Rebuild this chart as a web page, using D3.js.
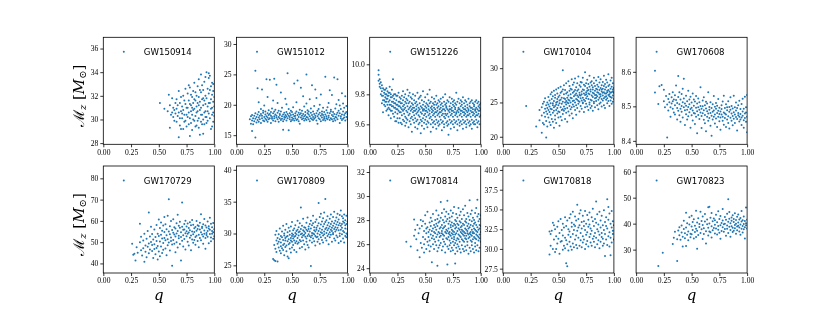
<!DOCTYPE html>
<html>
<head>
<meta charset="utf-8">
<script src="https://cdnjs.cloudflare.com/ajax/libs/d3/7.8.5/d3.min.js"></script>
<style>
  body { margin: 0; background: #fff; }
  .tick text, .label { filter: grayscale(1); }
</style>
</head>
<body>
<div id="chart"></div>
<script>
// event names, one panel each
const events = ["GW150914", "GW151012", "GW151226", "GW170104", "GW170608",
                "GW170729", "GW170809", "GW170814", "GW170818", "GW170823"];

// posterior samples: [q, [chirp masses at that q]]
const gw150914 = [[.51,[31.4]],[.55,[30.9]],[.58,[30.7]],[.59,[32.1]],[.60,[29.3,31.2]],[.61,[30.4]],[.62,[30.6,31.8]],[.63,[30.2,31.0]],[.64,[30.8,29.9]],[.65,[30.5,31.4]],[.66,[29.8,30.9,31.7]],[.67,[30.3,31.2]],[.68,[28.5,30.6,32.4]],[.69,[29.5,30.1,31.4]],[.70,[30.7,31.9,29.2]],[.71,[30.1,31.1,30.5]],[.72,[29.2,30.8,32.0]],[.73,[30.4,31.6,29.8]],[.74,[29.9,31.3,32.6]],[.75,[30.4,31.0,29.4]],[.76,[31.0,32.2,30.2]],[.77,[29.6,30.6,31.6,32.9]],[.78,[28.6,30.1,31.3,32.7]],[.79,[29.7,30.7,31.2,32.1]],[.80,[29.1,30.4,31.9,31.0]],[.81,[30.0,31.4,32.4,30.8]],[.82,[29.9,30.9,31.7,33.1]],[.83,[29.4,30.3,31.6,32.3]],[.84,[29.5,31.1,32.0,30.6]],[.85,[30.7,31.4,32.8,29.9]],[.86,[29.3,30.1,31.9,33.4,31.2]],[.87,[28.7,30.8,31.5,32.5]],[.88,[29.8,31.0,32.3,33.8,30.4]],[.89,[30.4,31.7,32.9,29.6]],[.90,[28.8,30.0,31.2,32.5,31.8]],[.91,[29.6,31.6,33.2,30.6]],[.92,[30.2,30.7,32.0,33.6,31.3]],[.93,[30.2,31.8,34.0,29.7]],[.94,[29.9,31.1,32.6,30.7]],[.95,[30.5,32.2,33.5,31.4,33.9]],[.96,[30.1,31.4,33.7,32.5]],[.97,[29.2,30.9,31.7,32.8]],[.98,[29.4,31.0,32.1,30.4,33.1]],[.99,[30.6,31.5,32.4,33.0,29.8]],[1.0,[30.3,31.9,31.1]]];

const gw151012 = [[.12,[17.6]],[.13,[18.1,16.9]],[.14,[15.7,17.4,18.3]],[.15,[17.8,16.8]],[.16,[18.2,17.3]],[.17,[25.6,14.6,17.7,18.6]],[.18,[17.1,18.0]],[.19,[22.7,17.5,18.4]],[.20,[20.4,17.9,18.8,17.2]],[.21,[18.2,17.6]],[.22,[17.0,18.5,19.3]],[.23,[22.5,17.8,18.2]],[.24,[17.4,18.7,19.0]],[.25,[19.9,18.0,17.3]],[.26,[18.4,17.7,18.9]],[.27,[24.2,17.5,18.1]],[.28,[21.3,18.6,17.2,17.9]],[.29,[18.3,17.6,19.1]],[.30,[24.1,17.8,18.5]],[.31,[17.0,18.2,18.8]],[.32,[17.7,18.0,19.4]],[.33,[20.7,17.4,18.6]],[.34,[24.3,18.1,17.8,18.9]],[.35,[17.3,18.4,19.2]],[.36,[23.3,17.9,18.2]],[.37,[20.3,17.6,18.7]],[.38,[18.0,17.2,19.0]],[.39,[18.5,17.8,18.3]],[.40,[22.0,17.5,18.9]],[.41,[18.1,17.7,19.5]],[.42,[15.9,18.4,17.3]],[.43,[18.0,18.7,17.6]],[.44,[21.0,17.9,18.3]],[.45,[20.1,17.4,18.8,18.1]],[.46,[25.2,17.8,18.5]],[.47,[15.8,18.2,19.3]],[.48,[17.6,18.6,18.0]],[.49,[18.3,17.3,19.0]],[.50,[17.9,18.8,17.5]],[.51,[18.4,17.7,19.6]],[.52,[23.5,18.1,17.4]],[.53,[18.6,17.8,18.2]],[.54,[20.4,17.5,18.9]],[.55,[24.0,18.3,17.6]],[.56,[18.0,18.7,17.3]],[.57,[16.9,18.4,19.2]],[.58,[22.8,17.9,18.6]],[.59,[17.6,18.2,19.0]],[.60,[21.4,18.5,17.8]],[.61,[17.4,18.1,19.7]],[.62,[18.8,17.7,18.3]],[.63,[25.0,20.2,18.0,17.5]],[.64,[18.6,17.9,19.1]],[.65,[17.6,18.4,18.9]],[.66,[20.9,18.1,17.3]],[.67,[18.7,17.8,19.4]],[.68,[23.2,18.3,17.6]],[.69,[18.9,18.0,17.5]],[.70,[17.7,18.5,19.8]],[.71,[22.5,18.2,17.9]],[.72,[21.1,18.6,17.4]],[.73,[16.9,18.1,19.0]],[.74,[18.4,17.8,19.3]],[.75,[20.0,17.6,18.7]],[.76,[21.7,18.2,17.3]],[.77,[18.9,17.9,18.5]],[.78,[17.5,18.3,19.5]],[.79,[18.8,18.0,17.7]],[.80,[24.6,18.4,17.4]],[.81,[18.1,19.1,17.8]],[.82,[18.7,17.6,19.6]],[.83,[20.3,18.2,17.9]],[.84,[22.4,18.6,17.5]],[.85,[17.8,18.9,19.2]],[.86,[21.6,18.3,17.6]],[.87,[17.3,18.8,18.1]],[.88,[24.5,18.5,17.7]],[.89,[19.4,18.0,17.4]],[.90,[20.1,18.4,17.9]],[.91,[24.2,18.7,17.6]],[.92,[20.8,18.2,19.0]],[.93,[17.0,18.6,19.9]],[.94,[18.1,17.8,19.3]],[.95,[21.9,18.4,17.5]],[.96,[20.2,18.9,17.7]],[.97,[18.3,17.9,19.5]],[.98,[21.4,17.4,18.6]],[.99,[18.0,18.8,19.8]],[1.0,[18.5,17.6]]];

const gw151226 = [[.08,[9.96,9.93,9.89]],[.09,[9.90,9.87,9.85]],[.10,[9.88,9.84,9.80]],[.11,[9.86,9.82,9.79,9.74]],[.12,[9.84,9.79,9.68,9.76]],[.13,[9.81,9.76,9.83,9.73]],[.14,[9.83,9.78,9.72,9.80,9.75]],[.15,[9.80,9.75,9.69,9.77,9.84]],[.16,[9.82,9.77,9.73,9.70,9.79]],[.17,[9.79,9.71,9.66,9.75,9.81]],[.18,[9.81,9.76,9.70,9.73,9.85]],[.19,[9.78,9.73,9.64,9.80,9.69]],[.20,[9.83,9.75,9.69,9.72,9.78]],[.21,[9.90,9.79,9.72,9.67,9.75]],[.22,[9.77,9.71,9.65,9.74,9.80]],[.23,[9.80,9.74,9.68,9.62,9.71]],[.24,[9.76,9.70,9.62,9.73,9.79]],[.25,[9.79,9.73,9.67,9.64,9.70]],[.26,[9.81,9.75,9.69,9.72,9.61]],[.27,[9.72,9.64,9.78,9.68,9.75]],[.28,[9.74,9.68,9.61,9.77,9.71]],[.29,[9.79,9.74,9.70,9.66,9.60]],[.30,[9.76,9.72,9.69,9.63,9.82]],[.31,[9.78,9.73,9.67,9.62,9.70]],[.32,[9.80,9.75,9.71,9.65,9.59]],[.33,[9.77,9.69,9.64,9.74,9.61]],[.34,[9.83,9.72,9.68,9.63,9.76]],[.35,[9.79,9.74,9.70,9.66,9.58]],[.36,[9.75,9.71,9.67,9.62,9.81]],[.37,[9.78,9.72,9.69,9.64,9.60]],[.38,[9.74,9.70,9.65,9.77,9.55]],[.39,[9.80,9.73,9.68,9.63,9.71]],[.40,[9.76,9.71,9.66,9.61,9.69]],[.41,[9.79,9.74,9.69,9.64,9.58]],[.42,[9.75,9.70,9.67,9.62,9.72]],[.43,[9.81,9.73,9.68,9.63,9.57]],[.44,[9.77,9.71,9.66,9.60,9.69]],[.45,[9.74,9.70,9.65,9.61,9.78]],[.46,[9.79,9.72,9.68,9.63,9.54]],[.47,[9.76,9.71,9.67,9.62,9.59]],[.48,[9.82,9.73,9.69,9.64,9.70]],[.49,[9.75,9.70,9.66,9.61,9.57]],[.50,[9.78,9.72,9.67,9.63,9.69]],[.51,[9.74,9.69,9.65,9.60,9.71]],[.52,[9.80,9.73,9.68,9.62,9.58]],[.53,[9.76,9.70,9.66,9.61,9.72]],[.54,[9.83,9.74,9.69,9.64,9.67]],[.55,[9.75,9.71,9.65,9.60,9.55]],[.56,[9.78,9.72,9.68,9.63,9.70]],[.57,[9.74,9.69,9.66,9.61,9.58]],[.58,[9.77,9.71,9.67,9.62,9.73]],[.59,[9.75,9.70,9.65,9.60,9.68]],[.60,[9.79,9.73,9.68,9.63,9.57]],[.61,[9.74,9.69,9.66,9.61,9.71]],[.62,[9.76,9.72,9.67,9.62,9.59]],[.63,[9.75,9.70,9.65,9.60,9.68]],[.64,[9.77,9.71,9.68,9.63,9.73]],[.65,[9.74,9.69,9.66,9.61,9.56]],[.66,[9.78,9.72,9.67,9.62,9.70]],[.67,[9.75,9.70,9.65,9.60,9.58]],[.68,[9.80,9.73,9.69,9.64,9.67]],[.69,[9.74,9.71,9.66,9.61,9.72]],[.70,[9.76,9.70,9.67,9.62,9.59]],[.71,[9.75,9.69,9.65,9.60,9.53]],[.72,[9.78,9.72,9.68,9.63,9.70]],[.73,[9.74,9.70,9.66,9.61,9.57]],[.74,[9.77,9.71,9.67,9.62,9.69]],[.75,[9.75,9.69,9.65,9.60,9.73]],[.76,[9.76,9.72,9.68,9.63,9.58]],[.77,[9.74,9.70,9.66,9.61,9.71]],[.78,[9.81,9.73,9.67,9.62,9.68]],[.79,[9.75,9.69,9.65,9.60,9.56]],[.80,[9.77,9.71,9.68,9.63,9.70]],[.81,[9.74,9.70,9.66,9.61,9.59]],[.82,[9.76,9.72,9.67,9.62,9.69]],[.83,[9.75,9.69,9.65,9.60,9.73]],[.84,[9.78,9.71,9.68,9.63,9.57]],[.85,[9.74,9.70,9.66,9.61,9.68]],[.86,[9.76,9.72,9.67,9.62,9.70]],[.87,[9.75,9.69,9.65,9.60,9.58]],[.88,[9.73,9.71,9.68,9.63,9.66]],[.89,[9.77,9.70,9.66,9.61,9.69]],[.90,[9.74,9.72,9.67,9.62,9.59]],[.91,[9.75,9.69,9.65,9.60,9.71]],[.92,[9.76,9.71,9.68,9.63,9.57]],[.93,[9.74,9.70,9.66,9.61,9.68]],[.94,[9.73,9.72,9.67,9.62,9.60]],[.95,[9.75,9.69,9.65,9.60,9.70]],[.96,[9.76,9.71,9.68,9.63,9.66]],[.97,[9.74,9.70,9.66,9.61,9.58]],[.98,[9.75,9.72,9.67,9.62,9.69]],[.99,[9.73,9.69,9.65,9.60,9.71]],[1.0,[9.74,9.70,9.66]]];

const gw170104 = [[.21,[24.5]],[.30,[21.5]],[.33,[23.9,22.4]],[.35,[20.6,24.3,23.1]],[.36,[24.8,22.0]],[.37,[23.5,25.1,21.8]],[.38,[24.1,22.9,25.6]],[.39,[19.9,23.7,24.6,22.3]],[.40,[25.0,23.3,24.2,21.5]],[.41,[24.7,22.8,25.8,23.9]],[.42,[23.6,25.3,24.4,22.1]],[.43,[24.9,26.2,23.2,21.7,24.1]],[.44,[25.5,24.0,22.6,26.5]],[.45,[24.6,23.5,25.9,22.2,24.9]],[.46,[25.2,23.8,26.7,24.3,21.3]],[.47,[24.5,25.7,23.1,26.1,22.5]],[.48,[25.0,23.9,26.9,24.7,22.0]],[.49,[24.2,25.5,23.4,26.3,25.1]],[.50,[25.8,24.6,22.8,27.1,23.7]],[.51,[24.9,26.0,23.6,25.3,21.6]],[.52,[25.4,24.3,27.3,22.9,26.4]],[.53,[24.8,26.6,23.9,25.7,22.4]],[.54,[29.7,25.1,24.0,26.9,23.3]],[.55,[25.6,24.4,27.5,23.8,26.2]],[.56,[25.0,26.8,24.1,22.6,25.5]],[.57,[26.3,24.7,27.8,23.5,25.2]],[.58,[25.7,24.2,26.5,22.2,25.0]],[.59,[26.0,24.9,28.1,23.7,25.4]],[.60,[25.3,26.7,24.5,23.1,27.4]],[.61,[26.2,25.0,27.0,24.0,25.7]],[.62,[25.6,26.9,24.3,28.4,23.4]],[.63,[26.4,25.2,27.6,24.7,22.7]],[.64,[25.9,26.6,24.4,27.9,25.3]],[.65,[26.1,25.0,28.5,23.9,26.8]],[.66,[25.5,27.2,24.6,26.3,23.2]],[.67,[26.7,25.4,27.8,24.2,26.0]],[.68,[25.8,26.9,24.8,28.8,25.2]],[.69,[26.4,25.1,27.5,23.7,26.1]],[.70,[26.0,27.3,24.5,25.6,28.0]],[.71,[26.6,25.3,27.9,24.1,26.2]],[.72,[25.7,26.9,24.9,28.6,25.0]],[.73,[26.3,27.6,25.4,23.6,26.8]],[.74,[29.4,26.1,25.2,27.4,24.3]],[.75,[26.5,25.6,27.8,24.8,26.2]],[.76,[25.9,27.1,24.4,26.7,28.3]],[.77,[26.8,25.5,27.7,23.9,26.3]],[.78,[26.2,27.3,25.0,28.9,24.7]],[.79,[26.6,25.4,27.9,24.2,26.9]],[.80,[26.0,27.5,25.3,28.1,24.5]],[.81,[26.9,25.8,27.2,23.8,26.4]],[.82,[26.3,27.8,25.1,28.6,24.9]],[.83,[26.7,25.6,27.4,24.3,26.1]],[.84,[26.1,27.0,25.2,28.2,25.7]],[.85,[26.9,25.9,27.6,24.6,26.5]],[.86,[26.4,27.3,25.4,28.7,24.0]],[.87,[26.8,25.7,27.9,24.8,26.2]],[.88,[26.2,27.1,25.0,28.4,25.9]],[.89,[26.6,25.5,27.5,24.4,26.9]],[.90,[27.0,26.0,28.0,25.3,26.4]],[.91,[26.5,27.4,25.6,28.9,24.6]],[.92,[26.9,25.8,27.7,24.2,26.3]],[.93,[26.3,27.2,25.4,28.3,25.9]],[.94,[26.7,25.6,27.9,24.9,26.5]],[.95,[26.1,27.4,25.2,29.1,26.8]],[.96,[26.6,25.9,27.6,24.5,26.2]],[.97,[27.0,26.4,28.2,25.3,25.8]],[.98,[26.5,27.3,25.7,28.6,24.8]],[.99,[26.9,26.0,27.8,25.1,26.6]],[1.0,[26.4,27.1,25.5]]];

const gw170608 = [[.17,[8.603,8.540]],[.20,[8.507]],[.21,[8.558]],[.23,[8.562]],[.25,[8.515,8.548]],[.26,[8.497]],[.27,[8.530]],[.28,[8.410,8.505]],[.29,[8.521,8.488]],[.30,[8.512,8.536]],[.31,[8.497,8.470]],[.32,[8.526,8.508]],[.33,[8.541,8.493,8.515]],[.34,[8.482,8.520]],[.35,[8.503,8.532,8.476]],[.36,[8.518,8.560]],[.37,[8.495,8.510,8.462]],[.38,[8.588,8.527,8.487]],[.39,[8.506,8.541,8.474]],[.40,[8.520,8.493,8.455]],[.41,[8.536,8.501,8.484]],[.42,[8.512,8.468,8.551]],[.43,[8.580,8.497,8.523]],[.44,[8.489,8.508,8.446]],[.45,[8.531,8.477,8.502]],[.46,[8.515,8.490,8.462]],[.47,[8.545,8.498,8.471]],[.48,[8.506,8.483,8.520]],[.49,[8.492,8.528,8.438]],[.50,[8.511,8.474,8.496]],[.51,[8.537,8.488,8.459]],[.52,[8.502,8.520,8.481]],[.53,[8.479,8.514,8.449]],[.54,[8.496,8.530,8.470]],[.55,[8.508,8.486,8.422]],[.56,[8.523,8.475,8.497]],[.57,[8.490,8.512,8.463]],[.58,[8.555,8.482,8.501]],[.59,[8.472,8.493,8.437]],[.60,[8.517,8.480,8.500]],[.61,[8.489,8.461,8.526]],[.62,[8.503,8.475,8.451]],[.63,[8.494,8.513,8.428]],[.64,[8.470,8.486,8.508]],[.65,[8.541,8.479,8.458]],[.66,[8.498,8.466,8.490]],[.67,[8.481,8.512,8.444]],[.68,[8.473,8.495,8.415]],[.69,[8.506,8.462,8.484]],[.70,[8.488,8.530,8.470]],[.71,[8.476,8.499,8.450]],[.72,[8.493,8.465,8.510]],[.73,[8.481,8.440,8.502]],[.74,[8.470,8.521,8.487]],[.75,[8.496,8.457,8.478]],[.76,[8.485,8.468,8.432]],[.77,[8.503,8.476,8.492]],[.78,[8.470,8.514,8.458]],[.79,[8.482,8.531,8.447]],[.80,[8.495,8.466,8.479]],[.81,[8.476,8.506,8.440]],[.82,[8.489,8.462,8.497]],[.83,[8.471,8.515,8.452]],[.84,[8.484,8.498,8.436]],[.85,[8.467,8.490,8.526]],[.86,[8.479,8.458,8.501]],[.87,[8.494,8.472,8.445]],[.88,[8.531,8.483,8.464]],[.89,[8.476,8.497,8.452]],[.90,[8.488,8.469,8.511]],[.91,[8.463,8.495,8.430]],[.92,[8.481,8.474,8.503]],[.93,[8.516,8.470,8.456]],[.94,[8.492,8.478,8.462]],[.95,[8.468,8.507,8.446]],[.96,[8.485,8.522,8.473]],[.97,[8.460,8.493,8.438]],[.98,[8.479,8.528,8.466]],[.99,[8.497,8.455,8.482]],[1.0,[8.470,8.425,8.533]]];

const gw170729 = [[.26,[49.2]],[.27,[44.1]],[.28,[44.5]],[.29,[41.4]],[.30,[47.6]],[.31,[45.0]],[.33,[58.6,49.9]],[.34,[46.2,52.5]],[.35,[43.7]],[.36,[50.8,47.1]],[.37,[40.8,53.9]],[.38,[48.4,45.5]],[.39,[51.6,42.9]],[.40,[55.2,47.8]],[.41,[63.9,49.4,44.8]],[.42,[52.7,46.5]],[.43,[50.1,57.3]],[.44,[45.9,53.8,48.7]],[.45,[51.2,42.6]],[.46,[55.9,49.0,46.8]],[.47,[52.4,44.3]],[.48,[58.1,50.6,47.3]],[.49,[54.0,48.2,41.9]],[.50,[60.7,52.9,45.6]],[.51,[50.3,56.6,43.4]],[.52,[53.5,47.9,59.2]],[.53,[51.7,55.4,44.9]],[.54,[57.8,49.6,46.4]],[.55,[54.8,52.0,61.8]],[.56,[50.9,58.4,47.0]],[.57,[56.1,53.2,43.8]],[.58,[62.4,51.4,48.5]],[.59,[70.2,55.0,49.8]],[.60,[53.7,57.5,46.1]],[.61,[59.9,52.2,50.5]],[.62,[38.9,55.7,48.9]],[.63,[54.4,60.8,51.0]],[.64,[57.0,49.3,53.6]],[.65,[52.6,56.4,45.2]],[.66,[58.9,54.1,50.0]],[.67,[62.9,55.3,47.5]],[.68,[53.0,57.7,51.8]],[.69,[56.8,49.1,59.6]],[.70,[41.4,54.6,52.4]],[.71,[68.6,57.2,50.7]],[.72,[55.8,53.3,48.0]],[.73,[58.5,51.5,56.0]],[.74,[54.2,60.1,46.6]],[.75,[57.4,52.8,55.1]],[.76,[53.9,50.2,58.8]],[.77,[56.7,48.4,54.5]],[.78,[52.1,59.3,55.6]],[.79,[57.9,46.2,53.1]],[.80,[55.0,51.3,60.4]],[.81,[58.2,53.7,49.7]],[.82,[54.8,56.5,51.0]],[.83,[57.1,52.4,48.8]],[.84,[60.0,55.4,53.0]],[.85,[56.2,50.6,58.0]],[.86,[53.5,57.6,47.6]],[.87,[55.9,52.0,59.1]],[.88,[63.1,54.7,50.9]],[.89,[57.3,53.6,56.6]],[.90,[52.7,58.4,49.2]],[.91,[55.5,54.0,60.9]],[.92,[57.8,51.9,46.9]],[.93,[54.3,56.9,53.4]],[.94,[59.7,52.5,55.2]],[.95,[56.4,49.5,57.5]],[.96,[53.8,55.8,61.5]],[.97,[58.6,52.2,50.4]],[.98,[55.3,57.0,53.9]],[.99,[54.6,59.0,51.6]],[1.0,[56.1,52.8]]];

const gw170809 = [[.33,[26.0]],[.34,[25.8,28.2]],[.35,[25.7,29.8,27.6]],[.36,[28.9,27.1,30.4]],[.37,[25.6,28.4,29.3]],[.38,[27.8,29.9,28.7]],[.39,[29.1,27.3,30.8]],[.40,[28.6,29.6,26.9,28.0]],[.41,[29.4,27.7,30.3]],[.42,[28.2,29.0,31.2,27.4]],[.43,[29.7,28.4,26.6,30.0]],[.44,[28.9,30.6,27.9,29.3]],[.45,[29.5,28.1,31.5,27.2]],[.46,[30.2,28.8,29.6,26.4]],[.47,[26.1,29.1,30.9,28.3]],[.48,[29.8,28.5,30.4,27.6]],[.49,[28.9,31.1,29.3,27.0]],[.50,[30.0,28.7,29.6,31.8,27.8]],[.51,[29.2,30.5,28.2,29.8]],[.52,[30.8,28.9,29.5,27.4]],[.53,[29.6,31.3,28.5,30.1]],[.54,[28.8,30.4,29.9,27.1]],[.55,[30.6,29.3,32.0,28.4]],[.56,[29.7,28.6,31.0,30.2]],[.57,[30.3,29.0,27.7,31.6]],[.58,[34.1,29.9,28.8,30.7]],[.59,[29.4,31.2,30.0,27.9]],[.60,[30.5,28.9,29.7,32.3]],[.61,[29.8,31.0,28.3,30.3]],[.62,[30.9,29.5,27.5,30.1]],[.63,[29.2,31.7,30.6,28.7]],[.64,[30.4,29.6,32.5,28.2]],[.65,[31.1,29.9,30.7,27.8]],[.66,[29.6,30.3,31.5,28.9]],[.67,[24.9,30.8,29.4,32.0]],[.68,[30.1,31.3,28.6,29.7]],[.69,[31.6,30.0,29.2,32.8]],[.70,[30.5,28.8,31.0,29.9]],[.71,[29.6,31.8,30.3,28.1]],[.72,[30.9,29.4,32.2,30.6]],[.73,[31.2,30.0,28.7,29.5]],[.74,[34.8,30.4,31.6,29.1]],[.75,[30.8,29.8,32.6,28.4]],[.76,[31.4,30.2,29.4,33.1]],[.77,[30.6,31.9,29.0,30.1]],[.78,[29.7,31.1,32.4,28.6]],[.79,[31.5,30.3,29.9,33.3]],[.80,[35.4,30.7,29.3,31.8]],[.81,[30.1,32.1,28.9,30.9]],[.82,[31.3,29.6,30.5,32.7]],[.83,[30.8,31.7,28.3,29.9]],[.84,[32.3,30.2,31.1,29.4]],[.85,[30.6,33.0,29.8,31.5]],[.86,[31.9,30.4,28.7,30.9]],[.87,[29.9,31.2,32.6,30.1]],[.88,[31.6,30.7,29.2,33.4]],[.89,[30.3,32.0,31.0,28.9]],[.90,[31.4,29.7,30.6,32.5]],[.91,[30.9,31.8,29.4,33.1]],[.92,[32.2,30.5,31.3,28.5]],[.93,[30.0,31.6,32.9,29.6]],[.94,[31.2,30.6,33.6,28.8]],[.95,[32.7,30.9,29.9,31.5]],[.96,[30.4,31.9,29.2,32.4]],[.97,[31.7,30.2,33.0,28.6]],[.98,[30.8,32.1,29.6,31.3]],[.99,[31.5,30.0,32.8,29.4]],[1.0,[30.7,31.9,29.8]]];

const gw170814 = [[.33,[26.2]],[.37,[25.8]],[.40,[28.05,26.7]],[.41,[27.2]],[.42,[26.4]],[.43,[27.6,25.5]],[.44,[26.9]],[.45,[24.9,27.3]],[.46,[26.1,28.0]],[.47,[27.5,25.7]],[.48,[26.6,27.9]],[.49,[25.3,27.1,26.0]],[.50,[27.7,26.4,28.4]],[.51,[26.9,25.6,27.3]],[.52,[27.4,26.2,28.7]],[.53,[25.9,27.0,26.6]],[.54,[27.8,26.3,25.4,27.2]],[.55,[26.8,28.2,27.5,25.8]],[.56,[24.5,26.5,27.9,27.1]],[.57,[27.3,26.0,28.5,26.7]],[.58,[26.4,27.6,25.6,27.0]],[.59,[28.0,26.9,27.4,26.2]],[.60,[27.2,25.9,28.8,26.6,27.7]],[.61,[24.2,26.8,27.5,25.4,28.1]],[.62,[27.0,26.3,28.4,27.8,25.7]],[.63,[26.6,27.9,25.9,27.3,26.9]],[.64,[29.5,27.4,26.1,28.2,26.7]],[.65,[26.9,27.6,25.5,28.6,27.1]],[.66,[27.3,26.4,28.0,25.8,26.8]],[.67,[26.7,27.8,28.9,26.2,27.4]],[.68,[27.5,26.0,28.3,27.0,25.3]],[.69,[26.5,27.2,28.7,26.9,27.9]],[.70,[29.6,24.3,27.1,26.4,28.1,25.8]],[.71,[27.7,26.6,28.5,27.3,25.6,26.9]],[.72,[26.8,27.9,25.9,28.2,27.0,26.3]],[.73,[27.4,26.1,28.8,27.6,25.4,26.7]],[.74,[26.9,28.3,27.2,25.7,27.8,26.5]],[.75,[27.5,26.2,28.6,26.8,25.5,27.1]],[.76,[26.6,27.7,29.1,27.0,25.9,26.4]],[.77,[27.3,28.0,26.1,27.6,25.2,26.8,24.4]],[.78,[26.9,27.4,28.5,26.3,27.9,25.7]],[.79,[27.1,26.5,28.2,27.7,25.4,26.0]],[.80,[27.6,26.8,29.0,27.3,25.8,26.4]],[.81,[26.7,27.9,28.4,26.2,27.2,25.6]],[.82,[27.4,26.6,28.7,27.0,25.3,27.8]],[.83,[26.9,28.1,27.5,26.4,25.9,27.2]],[.84,[27.7,26.3,28.9,27.1,25.6,26.8]],[.85,[27.0,28.4,26.7,27.6,25.4,26.2]],[.86,[26.5,27.3,29.2,27.9,25.8,26.9]],[.87,[27.8,26.4,28.1,27.2,25.5,26.7]],[.88,[27.1,28.6,26.2,27.5,25.9,26.9]],[.89,[26.8,27.7,28.3,26.5,25.2,27.3]],[.90,[29.65,27.4,26.6,28.0,25.7,26.9]],[.91,[27.0,28.5,26.3,27.6,25.4,26.8]],[.92,[26.7,27.9,28.8,27.2,25.9,26.2]],[.93,[27.5,26.4,28.2,27.0,25.6,26.9]],[.94,[26.9,28.0,27.3,26.6,25.3,27.7]],[.95,[27.2,26.5,28.6,27.8,25.8,26.1]],[.96,[26.8,27.6,29.0,27.1,25.5,26.4]],[.97,[29.7,27.4,26.7,28.3,25.9,27.0]],[.98,[26.6,27.9,28.5,27.2,25.4,26.3]],[.99,[27.3,26.8,28.1,27.6,25.7,26.5]],[1.0,[27.0,28.4,26.2,27.5]]];

const gw170818 = [[.42,[29.3,32.2]],[.43,[31.9,30.4]],[.44,[32.3]],[.45,[33.3,30.0]],[.46,[33.0,31.2]],[.47,[29.6,32.5]],[.48,[30.0,31.6]],[.49,[32.8,30.7]],[.50,[31.3,33.5]],[.51,[29.4,32.0]],[.52,[30.9,33.8]],[.53,[32.4,31.0]],[.54,[29.9,33.2,31.7]],[.55,[32.7,30.4]],[.56,[31.4,34.0,30.1]],[.57,[28.2,32.9,31.1]],[.58,[27.8,33.6,30.6]],[.59,[31.8,32.5,29.8]],[.60,[33.9,30.9,32.2]],[.61,[31.5,34.4,30.3]],[.62,[32.8,29.9,33.3]],[.63,[30.7,31.9,34.7]],[.64,[33.1,32.4,30.2]],[.65,[31.2,34.1,32.9]],[.66,[30.5,33.6,31.7]],[.67,[35.6,32.3,30.1]],[.68,[33.8,31.4,32.7]],[.69,[30.4,34.5,33.0]],[.70,[32.0,31.1,34.9]],[.71,[33.4,30.2,32.6]],[.72,[31.6,34.2,30.8]],[.73,[32.9,33.5,31.2]],[.74,[30.0,34.8,32.4]],[.75,[33.2,31.8,30.6]],[.76,[32.1,34.3,31.0]],[.77,[33.7,30.3,32.8]],[.78,[31.5,34.6,33.1]],[.79,[32.6,30.8,31.9]],[.80,[34.0,32.3,30.4]],[.81,[31.3,33.5,35.1]],[.82,[32.9,30.9,31.6]],[.83,[33.8,32.0,30.2]],[.84,[36.0,31.4,33.3]],[.85,[32.5,30.6,34.4]],[.86,[31.1,33.1,32.2]],[.87,[34.7,30.1,31.8]],[.88,[32.7,33.6,30.9]],[.89,[31.5,34.2,32.0]],[.90,[33.0,30.4,31.3]],[.91,[32.4,34.9,30.7]],[.92,[29.1,33.4,31.9]],[.93,[32.9,31.2,34.0]],[.94,[36.3,30.5,32.6]],[.95,[33.7,31.6,35.3]],[.96,[32.1,34.5,30.3]],[.97,[29.2,33.2,31.4]],[.98,[34.8,32.7,30.8]],[.99,[31.9,33.5,32.3]],[1.0,[33.0,31.2]]];

const gw170823 = [[.20,[23.7]],[.24,[28.8]],[.33,[32.2]],[.34,[34.6]],[.35,[36.9]],[.37,[25.6,34.0]],[.38,[37.4]],[.39,[35.5,38.6]],[.40,[33.8]],[.41,[36.6,39.3]],[.42,[31.2,35.0]],[.43,[37.9,41.1]],[.44,[34.4,36.3]],[.45,[31.4,44.2,38.5]],[.46,[35.7,40.2]],[.47,[37.0,33.6]],[.48,[39.7,42.5]],[.49,[36.1,34.8]],[.50,[38.9,43.0,35.9]],[.51,[37.6,40.6]],[.52,[34.3,41.7]],[.53,[39.2,36.8]],[.54,[45.0,38.0,34.9]],[.55,[30.3,40.4,37.3]],[.56,[42.1,35.6]],[.57,[38.7,39.9]],[.58,[36.4,44.6]],[.59,[41.0,37.8]],[.60,[34.1,39.5,42.8]],[.61,[38.2,36.0]],[.62,[40.8,43.7]],[.63,[37.1,32.4]],[.64,[39.8,41.6]],[.65,[35.4,46.3,38.4]],[.66,[46.5,40.1,37.0]],[.67,[42.3,36.7]],[.68,[39.0,44.1,34.7]],[.69,[40.9,37.5]],[.70,[38.3,42.0]],[.71,[36.2,41.3,39.6]],[.72,[43.4,38.1]],[.73,[40.5,35.8]],[.74,[37.7,44.8,39.1]],[.75,[41.8,36.5]],[.76,[39.4,42.9,34.2]],[.77,[40.3,37.2]],[.78,[38.6,45.6,41.2]],[.79,[36.9,39.8]],[.80,[42.6,40.0,37.9]],[.81,[35.3,41.5]],[.82,[39.3,43.8,38.0]],[.83,[49.4,40.7,36.4]],[.84,[41.9,38.8,44.5]],[.85,[37.6,40.2,35.0]],[.86,[42.4,39.0,41.1]],[.87,[38.4,43.2,36.8]],[.88,[40.6,37.3,41.8]],[.89,[39.5,44.0,38.2]],[.90,[41.4,36.1,40.0]],[.91,[38.9,42.7,37.5]],[.92,[40.4,39.2,43.5]],[.93,[37.0,41.6,38.5]],[.94,[42.2,39.7,35.7]],[.95,[40.8,38.0,44.9]],[.96,[36.6,41.3,39.1]],[.97,[39.9,42.8,37.8]],[.98,[41.0,38.6,34.3]],[.99,[40.2,46.2,39.4]],[1.0,[38.1,41.5]]];

const samples = [gw150914, gw151012, gw151226, gw170104, gw170608,
                 gw170729, gw170809, gw170814, gw170818, gw170823];

// y limits and tick labels of each panel
const yLimits = [[27.9, 36.95], [13.5, 31.1], [9.467, 10.18], [18.9, 34.5], [8.39, 8.70],
                 [35.5, 85.8], [23.8, 40.6], [23.6, 32.5], [26.95, 40.5], [21.0, 62.2]];
const yTickLabels = [
  ["28", "30", "32", "34", "36"],
  ["15", "20", "25", "30"],
  ["9.6", "9.8", "10.0"],
  ["20", "25", "30"],
  ["8.4", "8.5", "8.6"],
  ["40", "50", "60", "70", "80"],
  ["25", "30", "35", "40"],
  ["24", "26", "28", "30", "32"],
  ["27.5", "30.0", "32.5", "35.0", "37.5", "40.0"],
  ["30", "40", "50", "60"]
];
const xTickLabels = ["0.00", "0.25", "0.50", "0.75", "1.00"];

const svgWidth = 830;
const svgHeight = 312;
const blue = "#1f77b4";
const tickFont = "'Liberation Serif', 'DejaVu Serif', serif";

const svg = d3.select("#chart")
  .append("svg")
  .attr("width", svgWidth)
  .attr("height", svgHeight)
  .style("background", "#fff");

// panel grid
const panelW = 111;
const panelH = 107;
const firstLeft = 103.3;
const colStep = 133.2;
const rowTops = [37.3, 166];

events.forEach((name, i) => {
  const row = Math.floor(i / 5);
  const col = i % 5;
  const left = firstLeft + col * colStep;
  const top = rowTops[row];

  const g = svg.append("g")
    .attr("transform", `translate(${left}, ${top})`);

  const x = d3.scaleLinear().domain([0, 1]).range([0, panelW]);
  const y = d3.scaleLinear().domain(yLimits[i]).range([panelH, 0]);

  g.append("clipPath")
    .attr("id", `clip${i}`)
    .append("rect")
    .attr("width", panelW)
    .attr("height", panelH);

  const pts = samples[i].flatMap(([q, ms]) => ms.map(m => ({q, m})));

  g.append("g")
    .attr("clip-path", `url(#clip${i})`)
    .selectAll(".dot")
    .data(pts)
    .enter()
    .append("circle")
    .attr("class", "dot")
    .attr("cx", d => x(d.q))
    .attr("cy", d => y(d.m))
    .attr("r", 1.0)
    .attr("fill", blue);

  // axes
  const yLabels = yTickLabels[i];
  const yAxis = d3.axisLeft(y)
    .tickValues(yLabels.map(Number))
    .tickFormat((d, k) => yLabels[k])
    .tickSizeInner(3)
    .tickSizeOuter(0)
    .tickPadding(2);
  const xAxis = d3.axisBottom(x)
    .tickValues(xTickLabels.map(Number))
    .tickFormat((d, k) => xTickLabels[k])
    .tickSizeInner(3)
    .tickSizeOuter(0)
    .tickPadding(2);

  const ya = g.append("g").call(yAxis);
  const xa = g.append("g").attr("transform", `translate(0, ${panelH})`).call(xAxis);
  [ya, xa].forEach(a => {
    a.select(".domain").remove();
    a.selectAll("line").attr("stroke", "#000").attr("stroke-width", 0.8);
    a.selectAll("text")
      .attr("fill", "#000")
      .style("font-family", tickFont)
      .style("font-size", "7.6px");
  });

  // frame
  g.append("rect")
    .attr("width", panelW)
    .attr("height", panelH)
    .attr("fill", "none")
    .attr("stroke", "#000")
    .attr("stroke-width", 0.8);

  // legend
  g.append("circle")
    .attr("cx", 20.5)
    .attr("cy", 14.5)
    .attr("r", 1.0)
    .attr("fill", blue);
  g.append("text")
    .attr("class", "label")
    .attr("x", 40.5)
    .attr("y", 14.5)
    .attr("dominant-baseline", "central")
    .style("font-family", "'DejaVu Sans', sans-serif")
    .style("font-size", "8.6px")
    .attr("fill", "#000")
    .text(name);

  // x label under the bottom row
  if (row === 1) {
    svg.append("text")
      .attr("class", "label")
      .attr("x", left + panelW / 2)
      .attr("y", 300)
      .attr("text-anchor", "middle")
      .style("font-family", "'DejaVu Serif', serif")
      .style("font-style", "italic")
      .style("font-size", "15px")
      .text("q");
  }
});

// y labels on the first column
rowTops.forEach(top => {
  const t = svg.append("text")
    .attr("class", "label")
    .attr("transform", `translate(79, ${top + panelH / 2 + 5}) rotate(-90)`)
    .attr("text-anchor", "middle")
    .attr("dominant-baseline", "central")
    .style("font-family", "'DejaVu Serif', serif")
    .style("font-size", "15px");
  t.append("tspan").text("ℳ");
  t.append("tspan").attr("font-style", "italic").attr("font-size", "10px").attr("dy", 3).text("z");
  t.append("tspan").attr("dy", -3).text(" [");
  t.append("tspan").attr("font-style", "italic").text("M");
  t.append("tspan").attr("font-size", "10px").attr("dy", 3).text("⊙");
  t.append("tspan").attr("dy", -3).text("]");
});
</script>
</body>
</html>
